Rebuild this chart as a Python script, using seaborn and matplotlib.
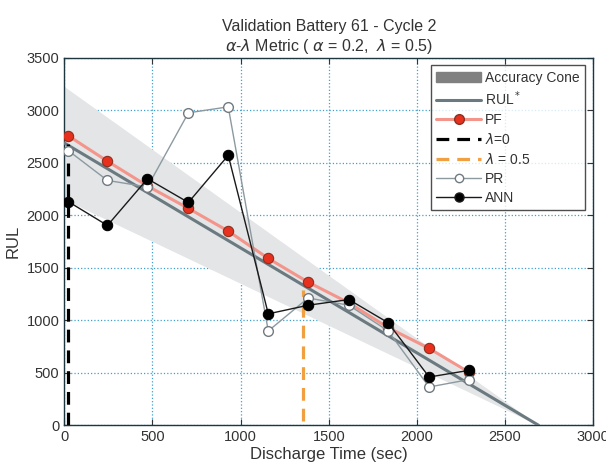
import numpy as np
import pandas as pd
import matplotlib
matplotlib.use('Agg')
import matplotlib.pyplot as plt
import seaborn as sns
from matplotlib.patches import Patch
from matplotlib.lines import Line2D

# Discharge time of each prediction (sec)
t_pred = [24, 245, 472, 704, 930, 1157, 1383, 1614, 1837, 2069, 2293]
pf_rul = [2757, 2516, 2280, 2067, 1850, 1590, 1364, 1166, 930, 733, 507]
pr_rul = [2616, 2333, 2271, 2977, 3034, 899, 1213, 1144, 899, 365, 435]
ann_rul = [2130, 1904, 2349, 2123, 2572, 1062, 1144, 1198, 977, 460, 523]

eol = 2690          # end of life (sec)
alpha = 0.2
lam_start = 20      # lambda = 0
lam_half = 1355     # lambda = 0.5

sns.set_style("white")
plt.rcParams['font.family'] = ['Liberation Sans', 'DejaVu Sans']

fig = plt.figure(figsize=(6.06, 4.71), dpi=100)
ax = fig.add_axes([0.106, 0.097, 0.873, 0.780])

# ground truth RUL* and accuracy cone
t_true = np.array([0, eol])
rul_true = eol - t_true
ax.fill_between(t_true, (1 + alpha) * rul_true, (1 - alpha) * rul_true,
                color='#e3e5e6', lw=0, zorder=1)
df_true = pd.DataFrame({'t': t_true, 'rul': rul_true})
sns.lineplot(data=df_true, x='t', y='rul', ax=ax, color='#6b7a80', lw=2.2, zorder=3)

# lambda lines
ax.plot([lam_start, lam_start], [0, 2680], color='black', ls=(0, (4, 2.5)), lw=2.3, zorder=4)
ax.plot([lam_half, lam_half], [40, 1290], color='#f0a040', ls=(0, (4, 2.5)), lw=2.3, zorder=4)

df = pd.DataFrame({'t': t_pred, 'PF': pf_rul, 'PR': pr_rul, 'ANN': ann_rul})

sns.lineplot(data=df, x='t', y='PF', ax=ax, color='#f4958c', lw=2.2, zorder=5)
ax.scatter(df['t'], df['PF'], s=55, color='#e8301e', edgecolor='#8a3020', lw=0.8, zorder=6)

sns.lineplot(data=df, x='t', y='PR', ax=ax, color='#8c9aa0', lw=1.0, marker='o',
             markersize=7, markerfacecolor='white', markeredgecolor='#707a80',
             markeredgewidth=1.0, zorder=7)
sns.lineplot(data=df, x='t', y='ANN', ax=ax, color='#1a1a1a', lw=1.0, marker='o',
             markersize=7.5, markerfacecolor='black', markeredgecolor='black', zorder=8)

ax.set_xlim(0, 3000)
ax.set_ylim(0, 3500)
ax.set_xticks(range(0, 3001, 500))
ax.set_yticks(range(0, 3501, 500))
ax.grid(True, color='#3fa0d0', ls=':', lw=0.9)
ax.tick_params(direction='in', length=4, labelsize=10.5, colors='#333333',
               top=True, right=True, bottom=True, left=True)
for s in ax.spines.values():
    s.set_color('#1d3640')
    s.set_linewidth(1.0)

ax.set_xlabel('Discharge Time (sec)', fontsize=12, color='#333333', labelpad=2)
ax.set_ylabel('RUL', fontsize=12, color='#333333', labelpad=4)
ax.set_title('Validation Battery 61 - Cycle 2\n'
             r'$\alpha$-$\lambda$ Metric ( $\alpha$ = 0.2,  $\lambda$ = 0.5)',
             fontsize=11.5, color='#333333', pad=5)

handles = [
    Patch(facecolor='#808080', edgecolor='#808080', label='Accuracy Cone'),
    Line2D([], [], color='#6b7a80', lw=2.2, label=r'RUL$^*$'),
    Line2D([], [], color='#f4958c', lw=2.2, marker='o', markersize=7,
           markerfacecolor='#e8301e', markeredgecolor='#8a3020', label='PF'),
    Line2D([], [], color='black', lw=2.3, ls=(0, (4, 2.5)), label=r'$\lambda$=0'),
    Line2D([], [], color='#f0a040', lw=2.3, ls=(0, (4, 2.5)), label=r'$\lambda$ = 0.5'),
    Line2D([], [], color='#8c9aa0', lw=1.0, marker='o', markersize=6,
           markerfacecolor='white', markeredgecolor='#707a80', label='PR'),
    Line2D([], [], color='#1a1a1a', lw=1.0, marker='o', markersize=6.5,
           markerfacecolor='black', label='ANN'),
]
leg = ax.legend(handles=handles, loc='upper right', fontsize=10, frameon=True,
                fancybox=False, edgecolor='#222222', handlelength=3.2,
                handletextpad=0.3, labelspacing=0.35, borderaxespad=0.4,
                bbox_to_anchor=(0.995, 0.995))
leg.get_frame().set_linewidth(1.0)
for txt in leg.get_texts():
    txt.set_color('#333333')

fig.savefig('out.png', dpi=100)
plt.close(fig)
